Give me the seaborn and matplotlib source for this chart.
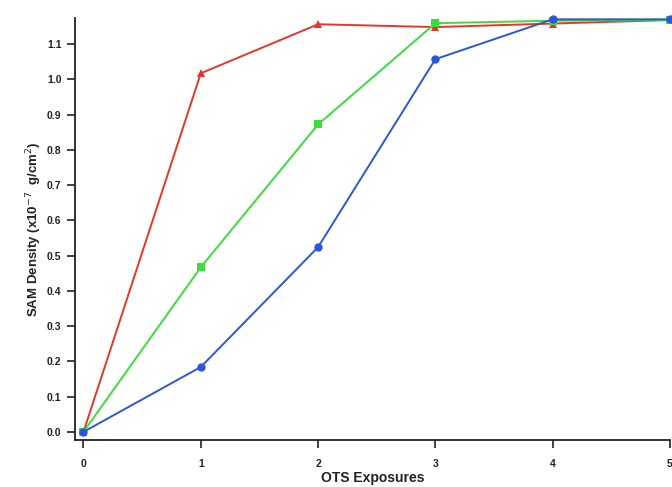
import matplotlib
matplotlib.use("Agg")
import matplotlib.pyplot as plt
import seaborn as sns
import pandas as pd

sns.set_style("ticks")
plt.rcParams['font.family'] = ['Liberation Sans', 'DejaVu Sans']

exposures = [0, 1, 2, 3, 4, 5]
red_vals = [0.0, 1.017, 1.156, 1.148, 1.158, 1.168]
green_vals = [0.0, 0.467, 0.872, 1.159, 1.166, 1.168]
blue_vals = [0.0, 0.184, 0.524, 1.057, 1.170, 1.170]

series = [
    ("red", red_vals, "#e8352c", "^"),
    ("green", green_vals, "#3ddc3a", "s"),
    ("blue", blue_vals, "#2f55d8", "o"),
]

fig = plt.figure(figsize=(6.72, 4.87), dpi=100)
ax = fig.add_axes([0.112, 0.0965, 0.885, 0.866])

for z, (name, vals, color, marker) in enumerate(series):
    df = pd.DataFrame({"x": exposures, "y": vals})
    sns.lineplot(data=df, x="x", y="y", ax=ax, color=color, marker=marker,
                 markersize=6, markeredgewidth=0, linewidth=1.4, clip_on=False,
                 zorder=3 + z)

ax.set_xlim(-0.07, 5.0)
ax.set_ylim(-0.023, 1.173)
ax.set_xticks(exposures)
ax.set_yticks([i / 10 for i in range(12)])
ax.set_yticklabels([f"{i/10:.1f}" for i in range(12)])
for lab in ax.get_xticklabels() + ax.get_yticklabels():
    lab.set_fontweight("bold")
ax.tick_params(axis="both", labelsize=7.5, length=6, width=1.2, color="#222222", labelcolor="#222222")
ax.tick_params(axis="x", pad=8)
ax.tick_params(axis="y", pad=4)
ax.set_xlabel("OTS Exposures", fontsize=10, fontweight="bold", labelpad=1, color="#222222")
ax.set_ylabel("SAM Density (x10$^{-7}$  g/cm$^{2}$)", fontsize=9.5, fontweight="bold", labelpad=2, color="#222222")
sns.despine(ax=ax)
for s in ["left", "bottom"]:
    ax.spines[s].set_linewidth(1.3)
    ax.spines[s].set_color("#222222")

fig.savefig("out.png", dpi=100)
